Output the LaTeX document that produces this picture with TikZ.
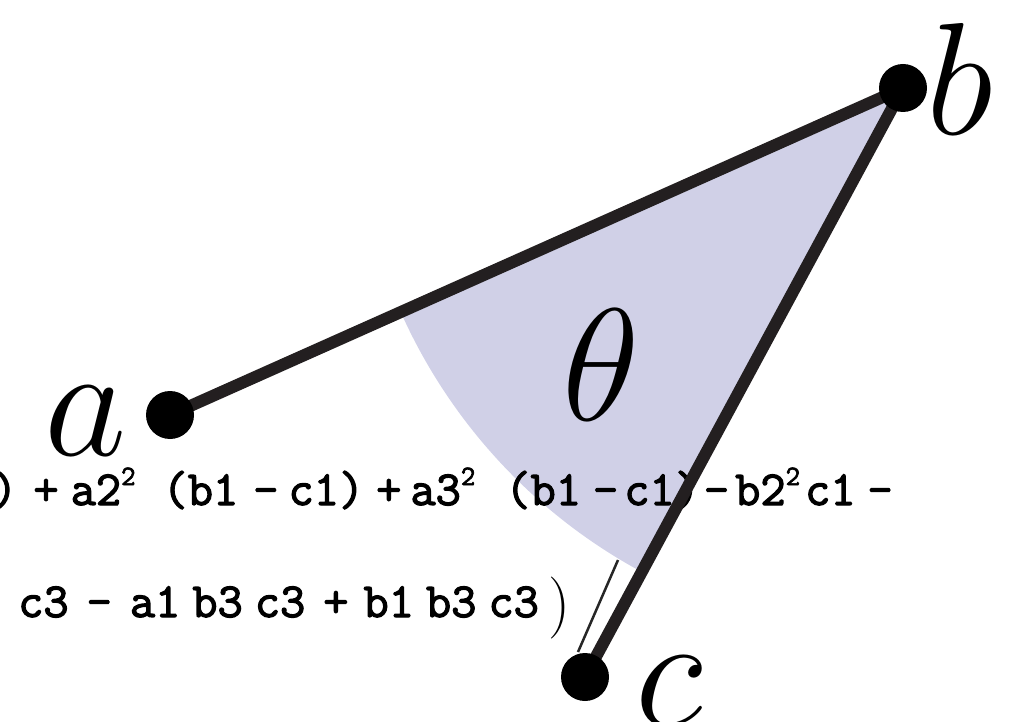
\documentclass[tikz,border=0pt]{standalone}
\usepackage{fontspec}
\usepackage{tikz}
\usetikzlibrary{positioning, calc}
\DeclareFontShape{OML}{cmm}{m}{it}{<-> cmmi12}{}
\newfontfamily\codefont{Latin Modern Mono}[FakeBold=2.5]
\definecolor{sectorfill}{RGB}{208, 208, 231}
\definecolor{segline}{RGB}{35, 31, 32}
\newcommand{\sqd}{\raisebox{20pt}{\fontsize{28}{28}\selectfont 2}}

\begin{document}
\begin{tikzpicture}[x=1pt, y=1pt,
    dot/.style={circle, fill=black, minimum size=48pt, inner sep=0pt},
    seg/.style={draw=segline, line width=12pt, line join=round},
    code/.style={font=\codefont\fontsize{49}{55}\selectfont, anchor=base west, inner sep=0pt},
    letter/.style={font=\fontsize{160}{160}\selectfont, anchor=base west, inner sep=0pt}]
    \useasboundingbox (0,0) rectangle (1024,721);
    % the three points
    \coordinate (pa) at (170,306);
    \coordinate (pb) at (903,633);
    \coordinate (pc) at (585,44);
    % angle sector at b
    \fill[sectorfill] let \p1 = ($(pa)-(pb)$), \p2 = ($(pc)-(pb)$),
        \n1 = {atan2(\y1,\x1)}, \n2 = {atan2(\y2,\x2)} in
        (pb) -- ++(\n1:550pt) arc[start angle=\n1, end angle=\n2, radius=550pt] -- cycle;
    % formula in the background
    \node[code] (row1) at (-8,216) {)\kern16pt+\kern12pt a2\sqd\kern27pt(b1\kern15pt-\kern10pt c1)\kern12pt+\kern9pt a3\sqd\kern30pt(b1\kern12pt-\kern6pt c1)\kern4pt-\kern6pt b2\sqd\kern5pt c1\kern12pt-};
    \node[code] (row2) at (18,104) {c3\kern18pt-\kern18pt a1\kern12pt b3\kern12pt c3\kern18pt+\kern15pt b1\kern12pt b3\kern12pt c3};
    \node[font=\fontsize{62}{62}\selectfont, inner sep=0pt] (close) at (559,113) {)};
    \coordinate (s1) at (618,161);
    \coordinate (s2) at (578,69);
    \draw[line width=2.5pt, black!85] (s1) -- (s2);
    % the angle
    \draw[seg] (pa) -- (pb) -- (pc);
    \node[dot] (a) at (pa) {};
    \node[dot] (b) at (pb) {};
    \node[dot] (c) at (pc) {};
    % labels
    \node[letter] (la) at (44,266) {$a$};
    \node[letter] (lb) at (926,586) {$b$};
    \node[letter] (lc) at (635,-4) {$c$};
    \node[letter] (lt) at (562,301) {$\theta$};
\end{tikzpicture}
\end{document}
